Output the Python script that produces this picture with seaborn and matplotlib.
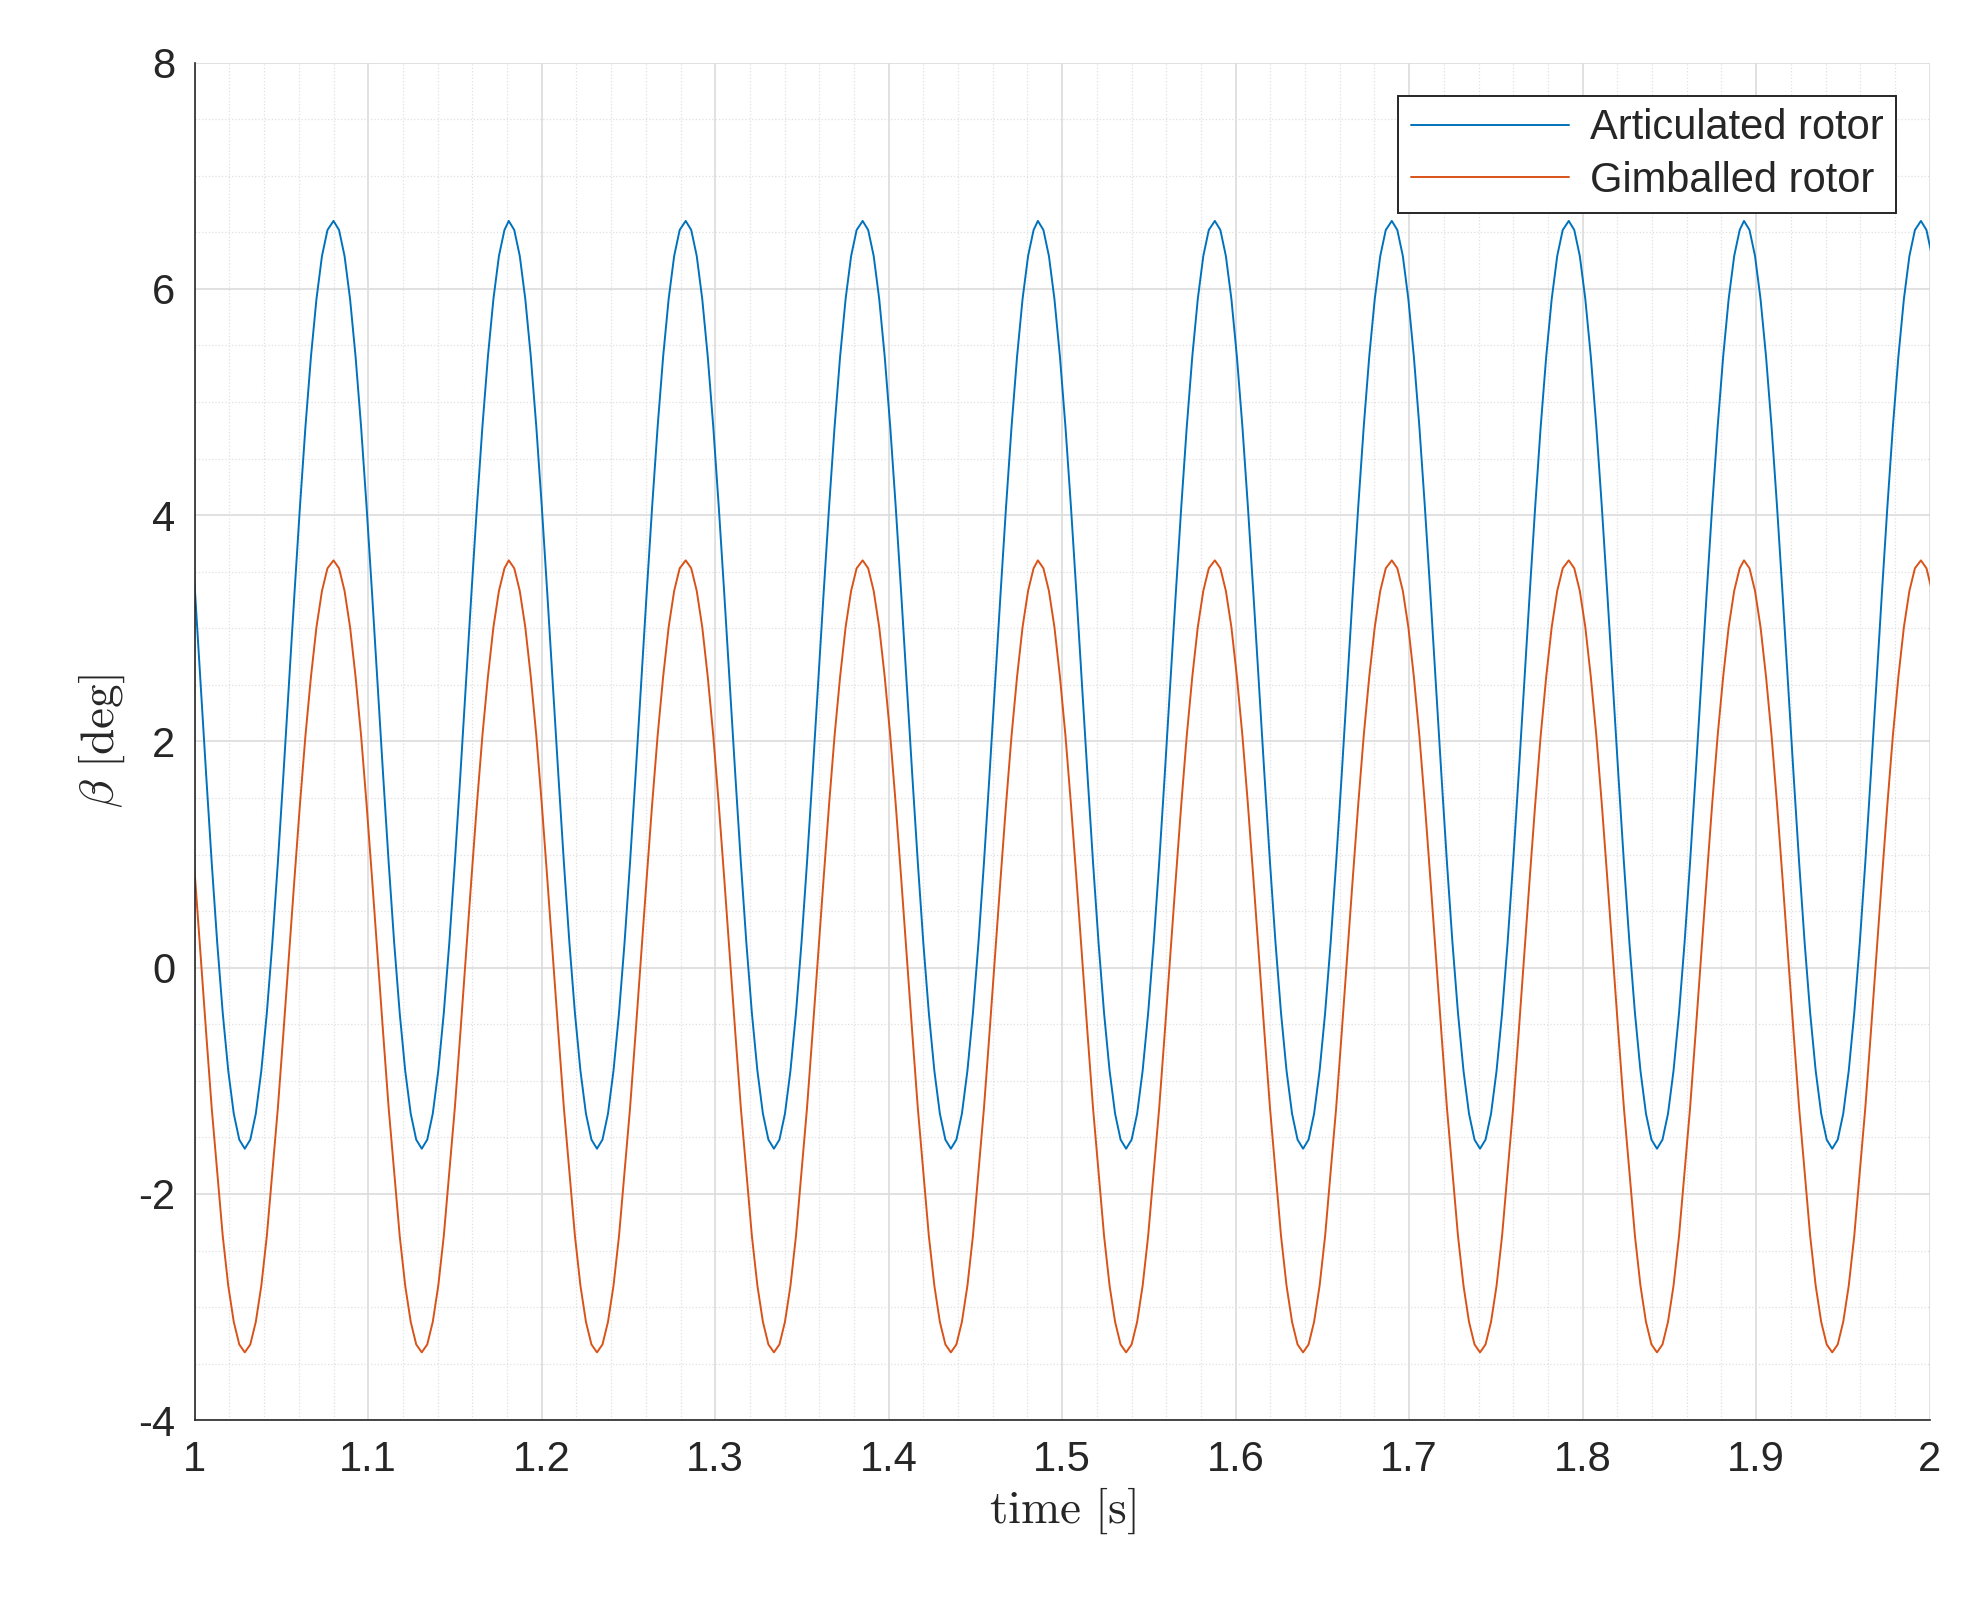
import numpy as np
import matplotlib.pyplot as plt
import seaborn as sns

sns.set_style("white")
plt.rcParams['font.family'] = ['Liberation Sans', 'DejaVu Sans']
plt.rcParams['mathtext.fontset'] = 'cm'

# peak times (one before the window so the first partial cycle is drawn)
peak_times = [0.978, 1.080, 1.181, 1.283, 1.385, 1.486, 1.588, 1.690, 1.792, 1.893, 1.995]
# one cycle, 32 samples from peak to next peak
half_blue = [6.6, 6.52, 6.29, 5.91, 5.40, 4.78, 4.07, 3.30, 2.5, 1.70, 0.93, 0.22, -0.40, -0.91, -1.29, -1.52, -1.6]
half_orange = [3.6, 3.53, 3.33, 3.01, 2.57, 2.05, 1.44, 0.78, 0.1, -0.58, -1.24, -1.81, -2.37, -2.81, -3.13, -3.33, -3.4]
cycle_blue = half_blue + half_blue[-2:0:-1]
cycle_orange = half_orange + half_orange[-2:0:-1]
labels = ["Articulated rotor", "Gimballed rotor"]
colors = ["#0072BD", "#D95319"]
xticks = [1, 1.1, 1.2, 1.3, 1.4, 1.5, 1.6, 1.7, 1.8, 1.9, 2]
xtick_labels = ["1", "1.1", "1.2", "1.3", "1.4", "1.5", "1.6", "1.7", "1.8", "1.9", "2"]
yticks = [-4, -2, 0, 2, 4, 6, 8]

period = np.mean(np.diff(peak_times))
n = len(cycle_blue)
t, yb, yo = [], [], []
for p in peak_times:
    for k in range(n):
        t.append(p + k * period / n)
        yb.append(cycle_blue[k])
        yo.append(cycle_orange[k])

fig = plt.figure(figsize=(19.67, 16.03), dpi=100)
ax = fig.add_axes([0.099, 0.114, 0.882, 0.847])
sns.lineplot(x=t, y=yb, ax=ax, color=colors[0], lw=1.4, label=labels[0])
sns.lineplot(x=t, y=yo, ax=ax, color=colors[1], lw=1.4, label=labels[1])

ax.set_xticks(xticks)
ax.set_xticklabels(xtick_labels)
ax.set_yticks(yticks)
ax.set_yticklabels([str(v) for v in yticks])
ax.set_xticks(np.arange(1, 2.001, 0.02), minor=True)
ax.set_yticks(np.arange(-4, 8.001, 0.5), minor=True)
ax.set_xlim(1, 2)
ax.set_ylim(-4, 8)
ax.grid(which='major', color='#dcdcdc', lw=1.2)
ax.grid(which='minor', color='#e0e0e0', lw=0.9, ls=':')
ax.tick_params(which='both', direction='in', top=False, right=False, labelsize=30,
               colors='#262626', pad=14)
ax.tick_params(which='major', length=12, width=1.2)
ax.tick_params(which='minor', length=0)
for s in ax.spines.values():
    s.set_color('#262626')
    s.set_linewidth(1.2)
ax.spines['top'].set_visible(False)
ax.spines['right'].set_visible(False)

ax.set_xlabel(r"$\mathrm{time\ [s]}$", fontsize=34, labelpad=4)
ax.set_ylabel(r"$\beta\ \mathrm{[deg]}$", fontsize=34, labelpad=8)

leg = ax.legend(loc='upper right', fontsize=30, frameon=True, fancybox=False,
                edgecolor='#262626', handlelength=3.8, borderaxespad=0.8,
                borderpad=0.3, labelspacing=0.3, handletextpad=0.5)
leg.get_frame().set_linewidth(1.4)
leg.get_frame().set_alpha(1)

fig.savefig("out.png")
